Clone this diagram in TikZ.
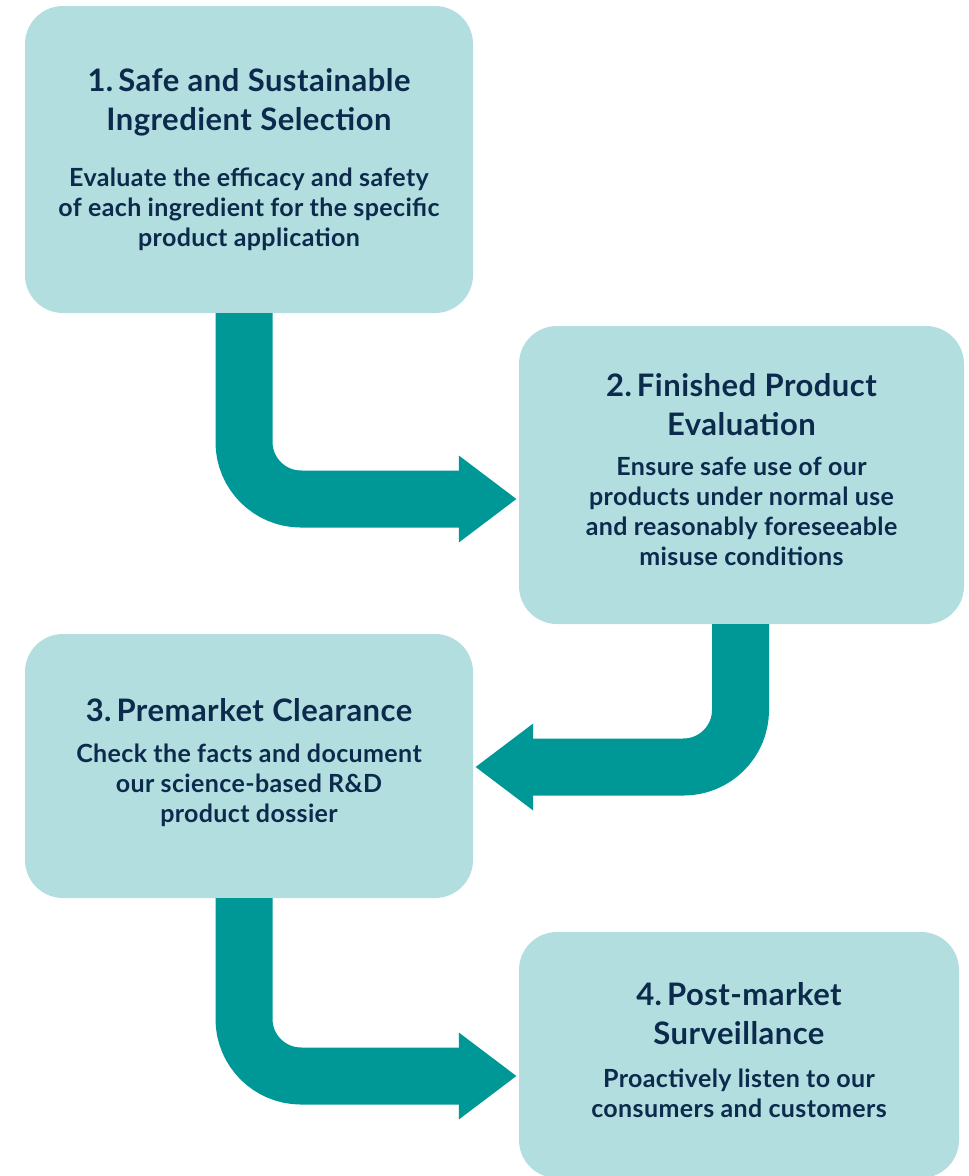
\documentclass[tikz,border=0pt]{standalone}
\usepackage{fontspec}
\setmainfont{Lato}[LetterSpace=1.5]
\usetikzlibrary{arrows.meta}
\definecolor{boxteal}{HTML}{B2DEDF}
\definecolor{flowteal}{HTML}{009797}
\definecolor{inkblue}{HTML}{0C2A4C}
\newcommand{\steptitle}[1]{{\fontsize{31}{39}\selectfont\spaceskip=0.27em\relax #1\par}}
\newcommand{\stepbody}[1]{{\fontsize{25}{30}\selectfont\spaceskip=0.25em\relax #1\par}}
\tikzset{
  stepbox/.style={fill=boxteal, rounded corners=38pt, text=inkblue,
    font=\bfseries, align=center, text width=436pt, inner sep=0pt},
  flow/.style={draw=flowteal, line width=57pt, rounded corners=57pt,
    -{Triangle[length=58pt,width=83pt]}}
}
\begin{document}
\begin{tikzpicture}[x=1pt,y=-1pt]
\useasboundingbox (0,0) rectangle (969,1176);
\node [stepbox, minimum width=448pt, minimum height=307pt] (b1) at (249,159.5)
  {\steptitle{1. Safe and Sustainable\\Ingredient Selection}\vspace{26pt}
   \stepbody{Evaluate the efficacy and safety\\of each ingredient for the specific\\product application}};
\node [stepbox, minimum width=445pt, minimum height=298pt] (b2) at (741.5,475)
  {\steptitle{2. Finished Product\\Evaluation}\vspace{10pt}
   \stepbody{Ensure safe use of our\\products under normal use\\and reasonably foreseeable\\misuse conditions}\vspace{10pt}};
\node [stepbox, minimum width=448pt, minimum height=264pt] (b3) at (249,766)
  {\steptitle{3. Premarket Clearance}\vspace{11pt}
   \stepbody{Check the facts and document\\our science-based R\&D\\product dossier}\vspace{7pt}};
\node [stepbox, minimum width=440pt, minimum height=246pt] (b4) at (739,1055)
  {\steptitle{4. Post-market\\Surveillance}\vspace{13pt}
   \stepbody{Proactively listen to our\\consumers and customers}\vspace{10pt}};
\draw [flow] ([xshift=-5pt]b1.south) |- ([xshift=-2pt,yshift=-24pt]b2.west);
\draw [flow] ([xshift=-1pt]b2.south) |- ([xshift=2pt,yshift=-1pt]b3.east);
\draw [flow] ([xshift=-5pt]b3.south) |- ([xshift=-2pt,yshift=-21pt]b4.west);
\end{tikzpicture}
\end{document}
